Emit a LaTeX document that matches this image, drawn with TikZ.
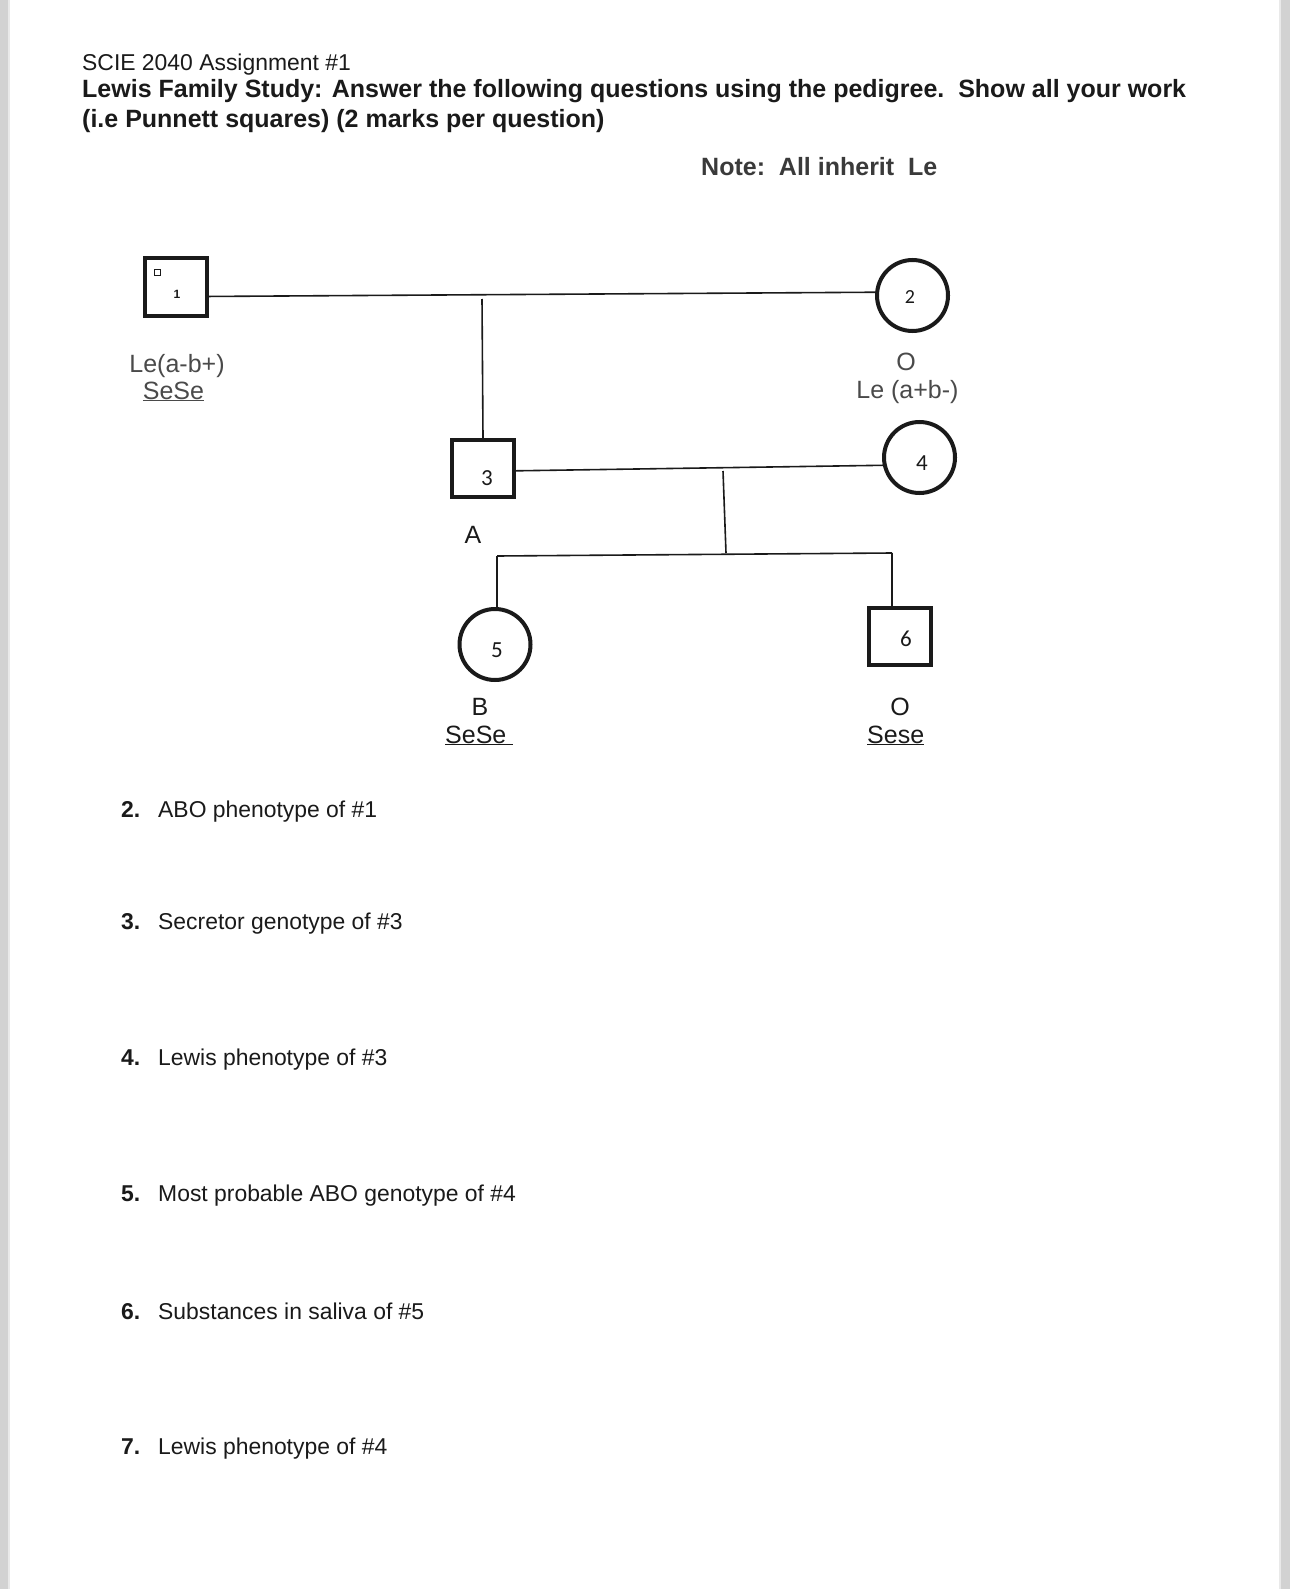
\documentclass[tikz,border=0pt]{standalone}
\usepackage{fontspec}
\setmainfont{Liberation Sans}
\newfontfamily\numfont{Carlito}
\usetikzlibrary{calc}
\definecolor{labgrey}{HTML}{4A4A4A}
\definecolor{notegrey}{HTML}{3A3A3A}
\definecolor{ink}{HTML}{1A1A1A}
\definecolor{pagegrey}{HTML}{D2D2D2}
\begin{document}
\begin{tikzpicture}[x=1pt,y=-1pt,
  sym/.style={draw=ink, line width=4pt, inner sep=0pt, fill=white},
  male/.style={sym, rectangle, minimum width=62pt, minimum height=57pt},
  female/.style={sym, circle, minimum size=71pt},
  link/.style={line width=1.6pt, draw=ink},
  num/.style={text=ink, inner sep=0pt, font=\numfont\fontsize{23}{23}\selectfont},
  lab/.style={anchor=base, inner sep=0pt, text=ink, font=\fontsize{25}{25}\selectfont},
  q/.style={anchor=base west, inner sep=0pt, text=ink, font=\fontsize{22.9}{27}\selectfont},
  qb/.style={q, font=\bfseries\fontsize{22.9}{27}\selectfont},
  hb/.style={q, font=\bfseries\fontsize{25}{29}\selectfont},
]
\fill[white] (0,0) rectangle (1290,1589);
\useasboundingbox (0,0) rectangle (1290,1589);
\fill[pagegrey] (0,0) rectangle (8,1589);
\fill[pagegrey!50] (8,0) rectangle (10,1589);
\fill[pagegrey!50] (1279,0) rectangle (1281,1589);
\fill[pagegrey] (1281,0) rectangle (1290,1589);

% header
\node[q] (t1) at (82,71) {SCIE 2040 Assignment \#1};
\node[hb] (t2) at (82,97.5) {Lewis Family Study: Answer the following questions using the pedigree.\ \ Show all your work};
\node[hb] (t3) at (82,127.5) {(i.e Punnett squares) (2 marks per question)};
\node[hb, text=notegrey] (note) at (701,176) {Note:\ \ All inherit\ \ Le};

% pedigree symbols
\node[male] (p1) at (175.5,287) {};
\node[female] (p2) at (912.5,295.5) {};
\node[male] (p3) at (483,468.5) {};
\node[female] (p4) at (919.5,457.5) {};
\node[female] (p5) at (495,644.5) {};
\node[male] (p6) at (900,636.5) {};

% numbers
\node[num, font=\bfseries\fontsize{12}{12}\selectfont] (n1) at (177,294) {1};
\node[draw=ink, line width=0.8pt, minimum size=6pt, inner sep=0pt] (m1) at (157,272) {};
\node[num, font=\numfont\fontsize{20}{20}\selectfont] (n2) at (910,297) {2};
\node[num] (n3) at (487,478) {3};
\node[num] (n4) at (922,463) {4};
\node[num] (n5) at (497,650) {5};
\node[num] (n6) at (906,639) {6};

% connectors
\draw[link] (p1.-16) -- (p2.175);
\coordinate (j12) at (482,299);
\draw[link] (j12) -- (p3.north);
\draw[link] (p3.-4) -- (p4.192);
\coordinate (j34) at (723,471);
\coordinate (jsib) at (726,553);
\draw[link] (j34) -- (jsib);
\coordinate (j5) at (497,556);
\coordinate (j6) at (892,553);
\draw[link] (j5) -- (j6);
\draw[link] (j5) -- (j5 |- p5.north);
\draw[link] (j6) -- (j6 |- p6.north);

% labels
\node[lab, text=labgrey] (l1a) at (177,372) {Le(a-b+)};
\node[lab, text=labgrey] (l1b) at (173.5,399) {\underline{SeSe}};
\node[lab, text=labgrey] (l2a) at (906,370) {O};
\node[lab, text=labgrey] (l2b) at (907.5,398) {Le (a+b-)};
\node[lab] (l3) at (473,543) {A};
\node[lab] (l5a) at (480,715) {B};
\node[lab, anchor=base west] (l5b) at (445,743) {\underline{SeSe\ }};
\node[lab] (l6a) at (900,715) {O};
\node[lab, anchor=base west] (l6b) at (867,743) {\underline{Sese}};

% questions
\node[qb] (q2n) at (121,817) {2.};
\node[q] (q2) at (158,817) {ABO phenotype of \#1};
\node[qb] (q3n) at (121,929) {3.};
\node[q] (q3) at (158,929) {Secretor genotype of \#3};
\node[qb] (q4n) at (121,1065) {4.};
\node[q] (q4) at (158,1065) {Lewis phenotype of \#3};
\node[qb] (q5n) at (121,1201) {5.};
\node[q] (q5) at (158,1201) {Most probable ABO genotype of \#4};
\node[qb] (q6n) at (121,1319) {6.};
\node[q] (q6) at (158,1319) {Substances in saliva of \#5};
\node[qb] (q7n) at (121,1454) {7.};
\node[q] (q7) at (158,1454) {Lewis phenotype of \#4};
\end{tikzpicture}
\end{document}
